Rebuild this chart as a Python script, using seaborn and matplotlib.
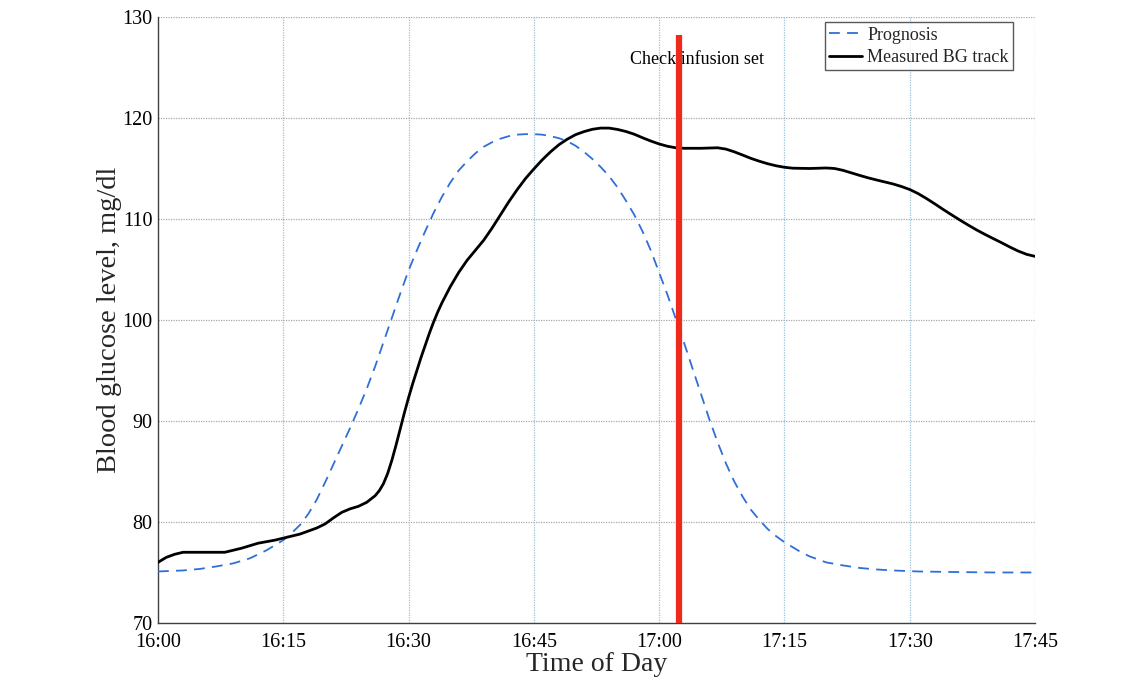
import matplotlib
matplotlib.use("Agg")
import matplotlib.pyplot as plt
import seaborn as sns
import pandas as pd

# Minutes after 16:00
prog_minutes = [0, 3, 5, 7, 9, 11, 12, 13, 14, 15, 16, 17, 18, 19, 20, 21, 22, 23,
                24, 25, 26, 27, 28, 29, 30, 31, 32, 33, 34, 35, 36, 37, 38, 39, 40,
                41, 42, 43, 44, 45, 46, 47, 48, 49, 50, 51, 52, 53, 54, 55, 56, 57,
                58, 59, 60, 61, 62, 63, 64, 65, 66, 67, 68, 69, 70, 71, 72, 73, 74,
                75, 76, 77, 78, 79, 80, 82, 84, 86, 88, 91, 95, 100, 105]
prog_bg = [75.1, 75.2, 75.35, 75.6, 75.9, 76.4, 76.8, 77.2, 77.7, 78.2, 78.9, 79.7,
           80.8, 82.2, 83.9, 85.7, 87.5, 89.3, 91.2, 93.2, 95.4, 97.8, 100.2, 102.6,
           104.9, 106.9, 108.8, 110.6, 112.2, 113.6, 114.8, 115.7, 116.5, 117.15,
           117.6, 117.95, 118.2, 118.35, 118.4, 118.4, 118.35, 118.2, 118.0, 117.7,
           117.25, 116.65, 115.95, 115.15, 114.25, 113.15, 111.85, 110.45, 108.8,
           106.9, 104.7, 102.5, 100.1, 97.7, 95.2, 92.7, 90.2, 87.9, 85.8, 84.0,
           82.5, 81.2, 80.2, 79.3, 78.6, 78.0, 77.5, 77.0, 76.6, 76.3, 76.0, 75.7,
           75.45, 75.3, 75.2, 75.1, 75.05, 75.0, 75.0]

meas_minutes = [0, 1, 2, 3, 4, 6, 8, 10, 12, 14, 15, 16, 17, 18, 19, 20, 21, 22, 23,
                24, 25, 26, 26.5, 27, 27.5, 28, 28.5, 29, 29.5, 30, 30.5, 31, 31.5,
                32, 32.5, 33, 33.5, 34, 34.5, 35, 35.5, 36, 37, 38, 39, 40, 41, 42,
                43, 44, 45, 46, 47, 48, 49, 50, 51, 52, 53, 54, 55, 56, 57, 58, 59,
                60, 61, 62, 63, 65, 67, 68, 69, 70, 71, 72, 73, 74, 75, 76, 78, 80,
                81, 82, 83, 84, 85, 86, 87, 88, 89, 90, 91, 92, 93, 94, 95, 96, 97,
                98, 99, 100, 101, 102, 103, 104, 105]
meas_bg = [76.0, 76.5, 76.8, 77.0, 77.0, 77.0, 77.0, 77.4, 77.9, 78.2, 78.4, 78.6,
           78.8, 79.1, 79.4, 79.8, 80.4, 80.95, 81.3, 81.55, 81.95, 82.6, 83.1,
           83.8, 84.8, 86.1, 87.6, 89.2, 90.8, 92.3, 93.7, 95.0, 96.3, 97.5, 98.7,
           99.8, 100.8, 101.7, 102.5, 103.3, 104.0, 104.7, 105.9, 106.9, 107.9,
           109.1, 110.4, 111.7, 112.9, 114.0, 114.95, 115.85, 116.65, 117.35,
           117.9, 118.35, 118.65, 118.88, 119.0, 119.0, 118.87, 118.67, 118.4,
           118.05, 117.72, 117.43, 117.2, 117.05, 117.0, 117.0, 117.05, 116.92,
           116.65, 116.33, 116.0, 115.72, 115.47, 115.27, 115.12, 115.03, 115.0,
           115.05, 115.0, 114.82, 114.57, 114.32, 114.08, 113.87, 113.67, 113.47,
           113.22, 112.92, 112.52, 112.03, 111.5, 110.95, 110.42, 109.9, 109.4,
           108.92, 108.48, 108.06, 107.65, 107.22, 106.82, 106.5, 106.3]

tick_minutes = [0, 15, 30, 45, 60, 75, 90, 105]
tick_labels = ["16:00", "16:15", "16:30", "16:45", "17:00", "17:15", "17:30", "17:45"]
y_ticks = [70, 80, 90, 100, 110, 120, 130]

event_minute = 62.4
event_top = 128.2
event_label = "Check infusion set"

sns.set_style("white")
plt.rcParams["font.family"] = ["Liberation Serif", "DejaVu Serif"]

fig = plt.figure(figsize=(11.43, 6.77), dpi=100)
ax = fig.add_axes([0.1382, 0.0798, 0.7673, 0.8951])

prog_df = pd.DataFrame({"minute": prog_minutes, "bg": prog_bg})
meas_df = pd.DataFrame({"minute": meas_minutes, "bg": meas_bg})

sns.lineplot(data=prog_df, x="minute", y="bg", ax=ax, color="#2f6fd6",
             linewidth=1.3, linestyle=(0, (6, 4)), label="Prognosis", zorder=3)
sns.lineplot(data=meas_df, x="minute", y="bg", ax=ax, color="black",
             linewidth=2.0, label="Measured BG track", zorder=4)

ax.vlines(event_minute, 70, event_top, color="#ee2a1c", linewidth=4.5, zorder=5)
ax.text(event_minute + 2.1, 125.8, event_label, ha="center", va="center",
        fontsize=13, color="black", zorder=2)

ax.set_xlim(0, 105)
ax.set_ylim(70, 130)
ax.set_xticks(tick_minutes)
ax.set_xticklabels(tick_labels)
ax.set_yticks(y_ticks)

# dotted grid: vertical bluish, horizontal gray
for m in tick_minutes[1:]:
    ax.axvline(m, color="#9cc3dc", linestyle=(0, (1, 1)), linewidth=0.9, zorder=1)
for v in y_ticks[1:]:
    ax.axhline(v, color="#a8a8a8", linestyle=(0, (1, 1)), linewidth=0.9, zorder=1)

for side in ["top", "right"]:
    ax.spines[side].set_visible(False)
for side in ["left", "bottom"]:
    ax.spines[side].set_color("#404040")
    ax.spines[side].set_linewidth(1.0)

ax.tick_params(axis="both", direction="in", length=5, width=1.0, color="#404040",
               labelsize=14.5, labelcolor="black", pad=4)
ax.tick_params(axis="x", pad=7)

ax.set_xlabel("Time of Day", fontsize=20, labelpad=0)
ax.set_ylabel("Blood glucose level, mg/dl", fontsize=20.5, labelpad=0)

leg = ax.legend(loc="upper right", bbox_to_anchor=(0.975, 0.9917), fontsize=13,
                frameon=True, fancybox=False, edgecolor="#303030",
                handlelength=1.8, handletextpad=0.3, borderpad=0.25,
                labelspacing=0.3, borderaxespad=0.0)
leg.get_frame().set_linewidth(1.0)

fig.savefig("out.png", dpi=100, facecolor="white")
